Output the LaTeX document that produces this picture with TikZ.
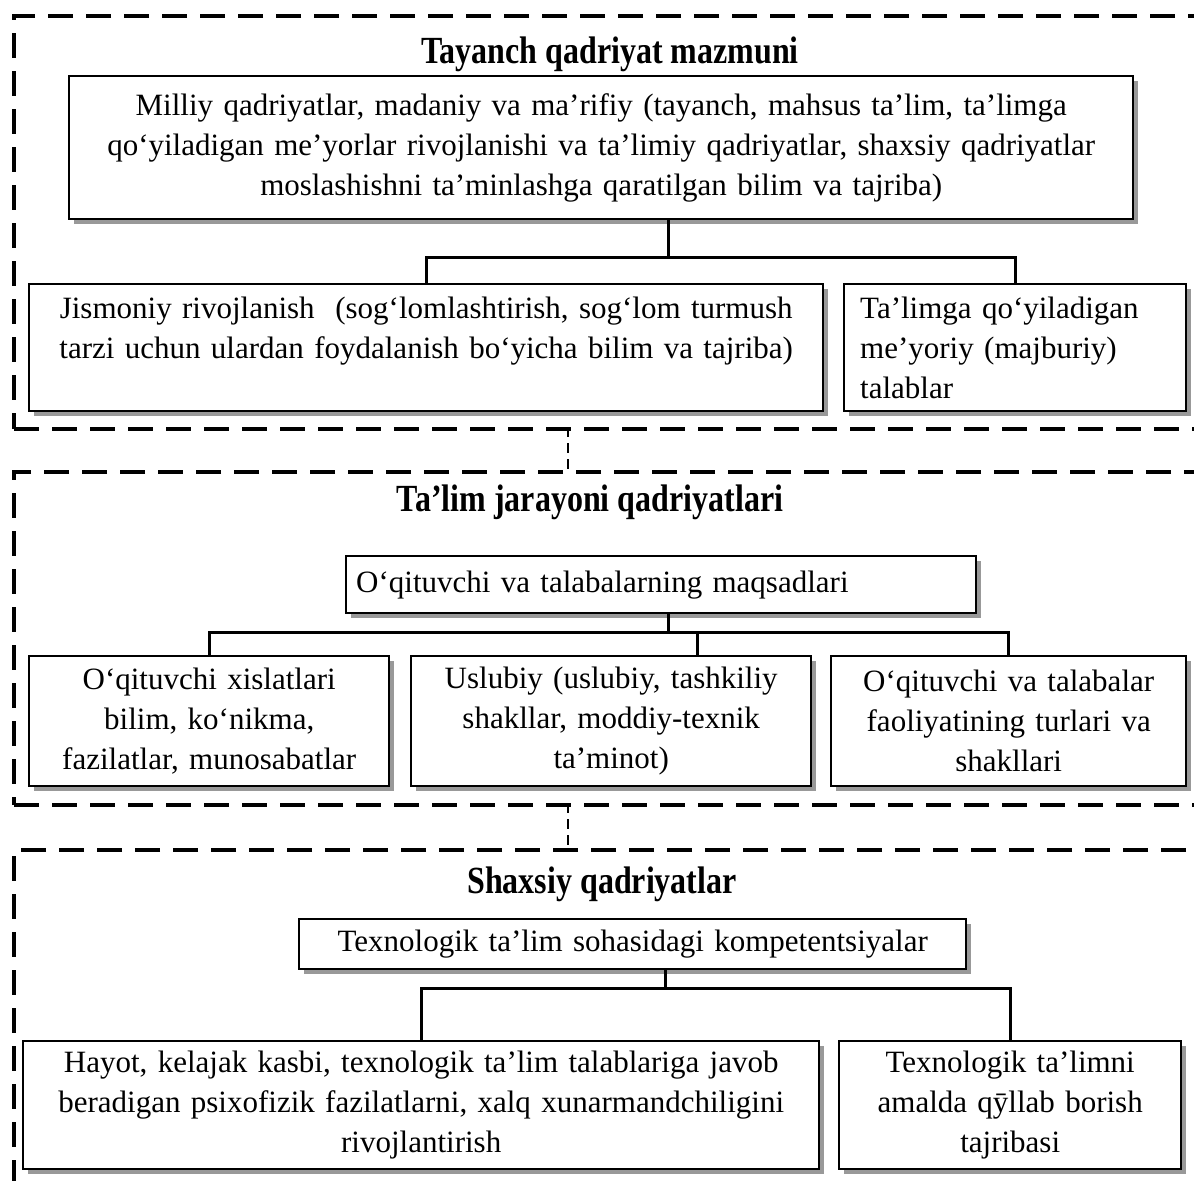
\documentclass[tikz,border=0pt]{standalone}
\usepackage{fontspec}
\setmainfont{Liberation Serif}
\usepackage{tikz}
\usetikzlibrary{
    positioning,
    shadows
}
\newcommand{\zonetitle}[1]{\scalebox{1}[1.2]{#1}}
\tikzset{
    box/.style={
        draw,
        line width=1.2pt,
        fill=white,
        drop shadow={shadow xshift=2.5pt, shadow yshift=-2.5pt, fill=black!40, opacity=1},
        anchor=north west,
        align=center,
        inner sep=0pt,
        font=\fontsize{15.5}{20}\selectfont
    },
    zone/.style={
        draw,
        line width=2pt,
        dash pattern=on 12.5pt off 6.5pt,
        anchor=north west,
        minimum width=700pt,
        inner sep=0pt
    },
    title/.style={
        font=\fontsize{16}{19}\selectfont\bfseries
    },
    link/.style={
        line width=1.5pt
    },
    zonelink/.style={
        line width=1.2pt,
        dash pattern=on 5pt off 3pt
    }
}

\begin{document}
\begin{tikzpicture}[
    x=0.5pt,
    y=-0.5pt
]

    \useasboundingbox (0,0) rectangle (1194,1180);
    \clip (0,0) rectangle (1194,1180);

    % Zonas
    \node[zone, minimum height=206.5pt] (z1) at (12,14) {};
    \node[zone, minimum height=166.5pt] (z2) at (12,470) {};
    \node[zone, minimum height=250pt] (z3) at (12,848) {};

    \coordinate (d1) at (568,427);
    \coordinate (d2) at (568,803);
    \draw[zonelink] (d1) -- (d1 |- z2.north);
    \draw[zonelink] (d2) -- (d2 |- z3.north);

    % Titulos
    \node[title] (t1) at (610,54) {\zonetitle{Tayanch qadriyat mazmuni}};
    \node[title] (t2) at (590,502) {\zonetitle{Ta’lim jarayoni qadriyatlari}};
    \node[title] (t3) at (602,884) {\zonetitle{Shaxsiy qadriyatlar}};

    % Zona 1
    \node[box, minimum width=532pt, minimum height=71.5pt, text width=520pt] (m1) at (68,75)
        {Milliy qadriyatlar, madaniy va ma’rifiy (tayanch, mahsus ta’lim, ta’limga\\
         qo‘yiladigan me’yorlar rivojlanishi va ta’limiy qadriyatlar, shaxsiy qadriyatlar\\
         moslashishni ta’minlashga qaratilgan bilim va tajriba)};
    \node[box, minimum width=397pt, minimum height=63.5pt, text width=385pt] (a1) at (28,283)
        {Jismoniy rivojlanish~~(sog‘lomlashtirish, sog‘lom turmush\\
         tarzi uchun ulardan foydalanish bo‘yicha bilim va tajriba)\\
         \mbox{}};
    \node[box, minimum width=171pt, minimum height=63.5pt, text width=155pt, align=left] (a2) at (843,283)
        {Ta’limga qo‘yiladigan\\
         me’yoriy (majburiy)\\
         talablar};

    % Zona 2
    \node[box, minimum width=315pt, minimum height=28.5pt, text width=305pt, align=left] (g1) at (345,555)
        {O‘qituvchi va talabalarning maqsadlari};
    \node[box, minimum width=180pt, minimum height=65pt, text width=172pt] (c1) at (28,655)
        {O‘qituvchi xislatlari\\
         bilim, ko‘nikma,\\
         fazilatlar, munosabatlar};
    \node[box, minimum width=200pt, minimum height=65pt, text width=192pt] (c2) at (410,655)
        {Uslubiy (uslubiy, tashkiliy\\
         shakllar, moddiy-texnik\\
         ta’minot)};
    \node[box, minimum width=177.5pt, minimum height=65pt, text width=170pt] (c3) at (830,655)
        {O‘qituvchi va talabalar\\
         faoliyatining turlari va\\
         shakllari};

    % Zona 3
    \node[box, minimum width=333.5pt, minimum height=25pt, text width=325pt] (k1) at (298,918)
        {Texnologik ta’lim sohasidagi kompetentsiyalar};
    \node[box, minimum width=398pt, minimum height=64pt, text width=390pt] (e1) at (22,1040)
        {Hayot, kelajak kasbi, texnologik ta’lim talablariga javob\\
         beradigan psixofizik fazilatlarni, xalq xunarmandchiligini\\
         rivojlantirish};
    \node[box, minimum width=171pt, minimum height=64pt, text width=163pt] (e2) at (838,1040)
        {Texnologik ta’limni\\
         amalda qȳllab borish\\
         tajribasi};

    % Conexiones
    \coordinate (j1) at (668,257);
    \coordinate (j2) at (668,632);
    \coordinate (j2b) at (697,632);
    \coordinate (j3) at (665,988);

    \draw[link] (m1.south -| j1) -- (j1);
    \draw[link] (a1.north) |- (j1) -| (a2.north);

    \draw[link] (g1.south -| j2) -- (j2);
    \draw[link] (c1.north) |- (j2) -| (c3.north);
    \draw[link] (j2b) -- (j2b |- c2.north);

    \draw[link] (k1.south -| j3) -- (j3);
    \draw[link] (e1.north) |- (j3) -| (e2.north);

\end{tikzpicture}
\end{document}
